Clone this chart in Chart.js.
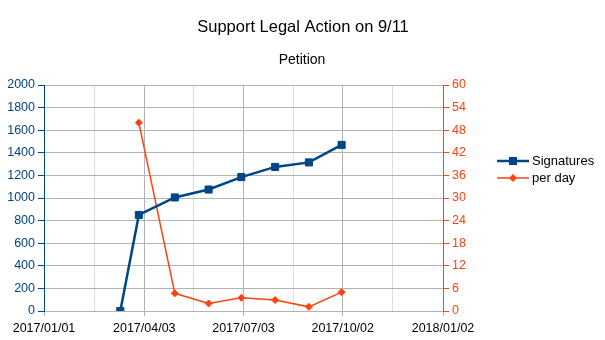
<!DOCTYPE html>
<html>
<head>
<meta charset="utf-8">
<script src="https://cdn.jsdelivr.net/npm/chart.js@4/dist/chart.umd.min.js"></script>
<style>
html,body{margin:0;padding:0;background:#fff;}
#wrap{width:605px;height:340px;}
</style>
</head>
<body>
<div id="wrap"><canvas id="c" width="605" height="340"></canvas></div>
<script>
// ---- data ----
const dates = ['2017/03/12','2017/03/29','2017/05/01','2017/06/01','2017/07/01','2017/08/01','2017/09/01','2017/10/01'];
const signatures = [0, 850, 1005, 1075, 1185, 1275, 1315, 1470];
const perDay = [null, 50, 4.7, 2.0, 3.5, 2.9, 1.1, 5.0];
const xTickLabels = ['2017/01/01','2017/04/03','2017/07/03','2017/10/02','2018/01/02'];
const seriesNames = ['Signatures', 'per day'];
const titleText = 'Support Legal Action on 9/11';
const subtitleText = 'Petition';
const leftTicks = {min: 0, max: 2000, step: 200};
const rightTicks = {min: 0, max: 60, step: 6};

const BLUE = '#004586', ORANGE = '#ff420e';
const FONT = "'Liberation Sans', Arial, sans-serif";
function dayOf(s){
  const [y,m,d] = s.split('/').map(Number);
  return Math.round((Date.UTC(y,m-1,d) - Date.UTC(2017,0,1)) / 86400000);
}
const majors = xTickLabels.map(dayOf);

Chart.defaults.font.family = FONT;

const decorPlugin = {
  id: 'decor',
  afterDraw(chart){
    const ctx = chart.ctx;
    ctx.save();
    ctx.fillStyle = '#000';
    ctx.textAlign = 'center'; ctx.textBaseline = 'middle';
    ctx.font = '16.5px ' + FONT;
    ctx.fillText(titleText, 303, 27);
    ctx.font = '14px ' + FONT;
    ctx.fillText(subtitleText, 302, 60);
    const items = [
      {name: seriesNames[0], color: BLUE, lw: 2.5, y: 161, shape: 'rect'},
      {name: seriesNames[1], color: ORANGE, lw: 1.5, y: 178, shape: 'diamond'}
    ];
    items.forEach(it => {
      ctx.strokeStyle = it.color; ctx.lineWidth = it.lw;
      ctx.beginPath(); ctx.moveTo(497, it.y); ctx.lineTo(529, it.y); ctx.stroke();
      ctx.fillStyle = it.color;
      if (it.shape === 'rect') { ctx.fillRect(509, it.y - 4, 8, 8); }
      else { ctx.beginPath(); ctx.moveTo(513, it.y - 4); ctx.lineTo(517, it.y); ctx.lineTo(513, it.y + 4); ctx.lineTo(509, it.y); ctx.closePath(); ctx.fill(); }
      ctx.fillStyle = '#000';
      ctx.font = '13px ' + FONT;
      ctx.textBaseline = 'middle'; ctx.textAlign = 'left';
      ctx.fillText(it.name, 532, it.y);
    });
    ctx.restore();
  }
};

new Chart(document.getElementById('c'), {
  type: 'line',
  data: {
    datasets: [
      {
        label: seriesNames[0],
        data: dates.map((d,i) => ({x: dayOf(d), y: signatures[i]})),
        borderColor: BLUE, backgroundColor: BLUE, borderWidth: 2.5,
        pointStyle: 'rect', pointRadius: 5, pointBorderWidth: 1,
        yAxisID: 'y', tension: 0
      },
      {
        label: seriesNames[1],
        data: dates.map((d,i) => ({x: dayOf(d), y: perDay[i]})),
        borderColor: ORANGE, backgroundColor: ORANGE, borderWidth: 1.5,
        pointStyle: 'rectRot', pointRadius: 3.5, pointBorderWidth: 1,
        yAxisID: 'y1', tension: 0, spanGaps: false
      }
    ]
  },
  options: {
    responsive: false,
    animation: false,
    layout: {padding: {left: 0, right: 122, top: 85, bottom: 0}},
    plugins: {
      legend: {display: false},
      tooltip: {enabled: false},
      title: {display: false},
      subtitle: {display: false}
    },
    scales: {
      x: {
        type: 'linear',
        min: majors[0], max: majors[majors.length-1],
        afterBuildTicks: s => {
          const t = [];
          majors.forEach((v,i) => {
            t.push({value: v, major: true});
            if (i < majors.length-1) t.push({value: (v + majors[i+1]) / 2, major: false});
          });
          s.ticks = t;
        },
        afterFit: s => { s.height = 29; },
        ticks: {
          autoSkip: false, maxRotation: 0, minRotation: 0, color: '#000',
          font: {size: 12.5}, padding: 5,
          callback: v => { const i = majors.indexOf(v); return i >= 0 ? xTickLabels[i] : ''; }
        },
        grid: {
          color: c => (c.tick && c.tick.major) ? '#b3b3b3' : '#dddddd',
          tickColor: c => (c.tick && c.tick.major) ? '#b3b3b3' : 'rgba(0,0,0,0)',
          tickLength: 5, lineWidth: 1
        },
        border: {display: true, color: '#b3b3b3'}
      },
      y: {
        position: 'left',
        min: leftTicks.min, max: leftTicks.max,
        afterFit: s => { s.width = 44; },
        ticks: {stepSize: leftTicks.step, color: BLUE, font: {size: 12.5}, padding: 3,
          callback: v => String(v)},
        grid: {color: '#b3b3b3', tickColor: BLUE, tickLength: 6},
        border: {display: true, color: BLUE}
      },
      y1: {
        position: 'right',
        min: rightTicks.min, max: rightTicks.max,
        afterFit: s => { s.width = 40; },
        ticks: {stepSize: rightTicks.step, color: ORANGE, font: {size: 12.5}, padding: 3,
          callback: v => String(v)},
        grid: {drawOnChartArea: false, tickColor: ORANGE, tickLength: 6},
        border: {display: true, color: ORANGE}
      }
    }
  },
  plugins: [decorPlugin]
});
</script>
</body>
</html>
